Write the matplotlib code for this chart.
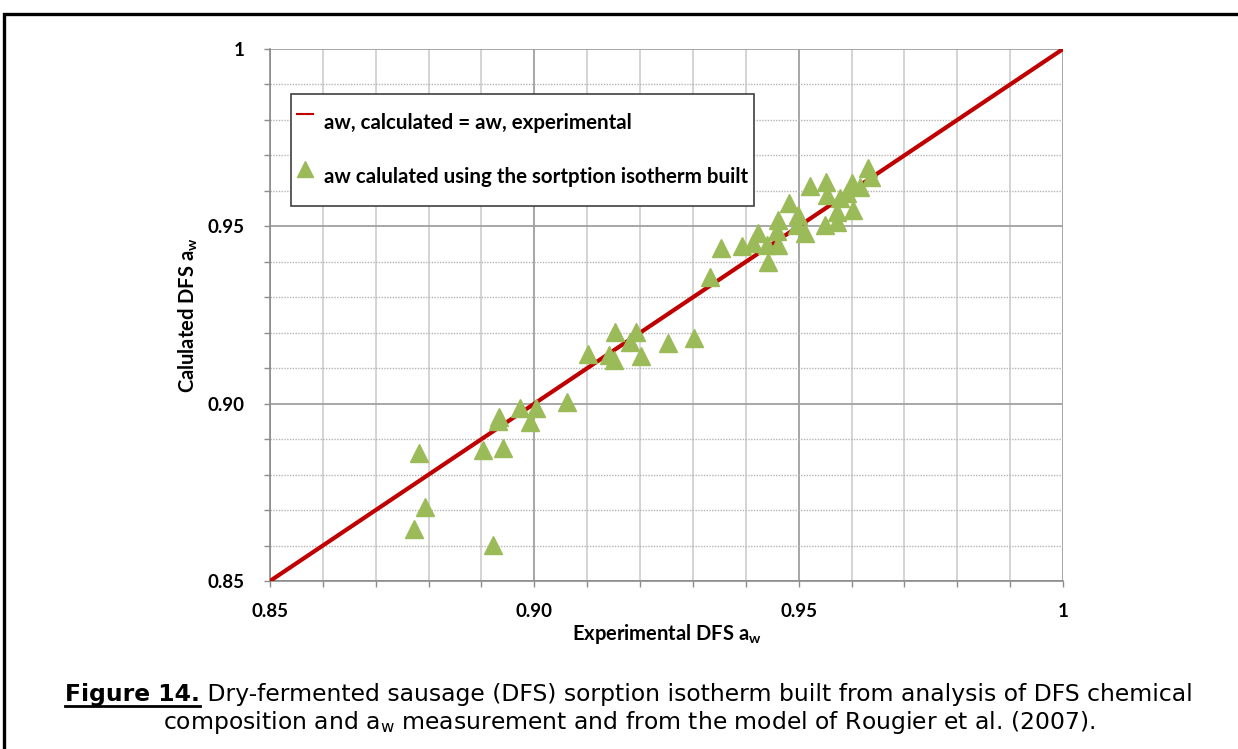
import matplotlib
matplotlib.use("Agg")
import matplotlib.pyplot as plt
import matplotlib.patches as mpatches
from matplotlib.lines import Line2D
import numpy as np

plt.rcParams['font.family'] = ['Lato', 'DejaVu Sans']
plt.rcParams['mathtext.fontset'] = 'custom'
plt.rcParams['mathtext.rm'] = 'Lato:bold'
plt.rcParams['mathtext.sf'] = 'DejaVu Sans'

# experimental aw vs aw calculated from the sortption isotherm
aw_exp = [0.8772, 0.8782, 0.8793, 0.8922, 0.8903, 0.8941, 0.8933, 0.8931,
          0.8973, 0.8992, 0.9003, 0.9062, 0.9101, 0.9141, 0.9151, 0.9153,
          0.9181, 0.9192, 0.9202, 0.9253, 0.9302, 0.9332, 0.9353, 0.9393,
          0.9414, 0.9423, 0.9440, 0.9442, 0.9461, 0.9459, 0.9461, 0.9482,
          0.9499, 0.9497, 0.9512, 0.9521, 0.9552, 0.9554, 0.9550, 0.9572,
          0.9572, 0.9578, 0.9591, 0.9601, 0.9603, 0.9616, 0.9631, 0.9637]
aw_calc = [0.8647, 0.8861, 0.8709, 0.8601, 0.8869, 0.8875, 0.8962, 0.8951,
           0.8988, 0.8948, 0.8988, 0.9005, 0.9140, 0.9137, 0.9123, 0.9202,
           0.9174, 0.9202, 0.9134, 0.9171, 0.9185, 0.9357, 0.9439, 0.9444,
           0.9453, 0.9481, 0.9447, 0.9399, 0.9447, 0.9487, 0.9518, 0.9566,
           0.9532, 0.9504, 0.9481, 0.9614, 0.9625, 0.9588, 0.9504, 0.9540,
           0.9512, 0.9580, 0.9594, 0.9622, 0.9546, 0.9611, 0.9664, 0.9639]
line_x = [0.85, 1.0]
line_y = [0.85, 1.0]

major_ticks = [0.85, 0.90, 0.95, 1.0]
major_labels = ['0.85', '0.90', '0.95', '1']
minor_ticks = np.round(np.arange(0.85, 1.0001, 0.01), 2)

W, H = 1238, 749
fig = plt.figure(figsize=(W / 100, H / 100), dpi=100)
ax = fig.add_axes([270 / W, 1 - 581 / H, (1063 - 270) / W, (581 - 49) / H])

ax.plot(line_x, line_y, color='#C00000', lw=3, zorder=3, solid_capstyle='butt')
ax.plot(aw_exp, aw_calc, linestyle='none', marker='^', ms=12.5,
        color='#9BBB59', markeredgecolor='#9BBB59', zorder=4)

ax.set_xlim(0.85, 1.0)
ax.set_ylim(0.85, 1.0)
ax.set_xticks(major_ticks, major_labels)
ax.set_yticks(major_ticks, major_labels)
ax.set_xticks(minor_ticks, minor=True)
ax.set_yticks(minor_ticks, minor=True)

ax.grid(True, axis='x', which='minor', color='#D4D4D4', lw=1.4)
ax.grid(True, axis='x', which='major', color='#A6A6A6', lw=1.4)
ax.grid(True, axis='y', which='minor', color='#B4B4B4', lw=1.0, linestyle=(0, (1, 1)))
ax.grid(True, axis='y', which='major', color='#A0A0A0', lw=1.3)
ax.set_axisbelow(True)

for s in ['top', 'right']:
    ax.spines[s].set_visible(False)
for s in ['left', 'bottom']:
    ax.spines[s].set_color('#8C8C8C')
    ax.spines[s].set_linewidth(1.2)

ax.tick_params(which='both', direction='out', length=4.5, color='#8C8C8C', width=1)
ax.tick_params(axis='x', which='major', pad=11, labelsize=13.5)
ax.tick_params(axis='y', which='major', pad=14, labelsize=13.5)
for t in ax.get_xticklabels() + ax.get_yticklabels():
    t.set_fontweight('bold')

ax.set_xlabel(r'Experimental DFS a$_\mathrm{w}$', fontsize=14.5, fontweight='bold', labelpad=2)
ax.set_ylabel(r'Calulated DFS a$_\mathrm{w}$', fontsize=14.5, fontweight='bold', labelpad=5)

handles = [Line2D([0], [0], color='#C00000', lw=1.5),
           Line2D([0], [0], linestyle='none', marker='^', ms=11, color='#9BBB59')]
labels = ['aw, calculated = aw, experimental',
          'aw calulated using the sortption isotherm built']
leg = ax.legend(handles, labels, loc='upper left', bbox_to_anchor=(0.0265, 0.9154),
                borderaxespad=0, fancybox=False, framealpha=1, edgecolor='#404040',
                prop={'weight': 'bold', 'size': 14.8}, labelspacing=0.45,
                handleheight=3.0, handlelength=0.75, handletextpad=0.55, borderpad=0.3)
leg.get_frame().set_linewidth(1.2)

# outer frame of the figure
fig.patches.append(mpatches.Rectangle((4 / W, -0.1), 1.2, 1.1 - 14 / H, fill=False,
                                      edgecolor='black', lw=2.4, transform=fig.transFigure))

# caption
cap_font = {'family': 'DejaVu Sans', 'size': 16.9}
fig.canvas.draw()
r = fig.canvas.get_renderer()
t1 = fig.text(0, 1 - 701 / H, 'Figure 14.', fontweight='bold', va='baseline', **cap_font)
t2 = fig.text(0, 1 - 701 / H, ' Dry-fermented sausage (DFS) sorption isotherm built from analysis of DFS chemical',
              va='baseline', **cap_font)
w1 = t1.get_window_extent(r).width
w2 = t2.get_window_extent(r).width
x0 = 629 - (w1 + w2) / 2
t1.set_x(x0 / W)
t2.set_x((x0 + w1) / W)
fig.add_artist(Line2D([x0 / W, (x0 + w1) / W], [1 - 706 / H, 1 - 706 / H],
                      color='black', lw=2.0, transform=fig.transFigure))
fig.text(629 / W, 1 - 729 / H,
         r'composition and a$_\mathsf{w}$ measurement and from the model of Rougier et al. (2007).',
         ha='center', va='baseline', **cap_font)

fig.savefig('out.png', dpi=100)
